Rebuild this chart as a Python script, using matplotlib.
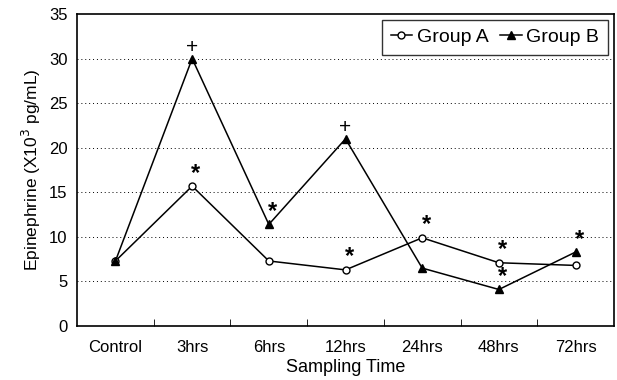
import numpy as np
import matplotlib.pyplot as plt

plt.rcParams['font.family'] = ['Liberation Sans', 'DejaVu Sans']

# Sampling times and epinephrine levels (x10^3 pg/mL)
categories = ['Control', '3hrs', '6hrs', '12hrs', '24hrs', '48hrs', '72hrs']
group_a = [7.3, 15.7, 7.3, 6.3, 9.9, 7.1, 6.8]
group_b = [7.3, 30.0, 11.4, 21.0, 6.5, 4.1, 8.3]

# Significance marks: (category index, symbol)
marks_a = [(1, '*'), (3, '*'), (4, '*'), (5, '*')]
marks_b = [(1, '+'), (2, '*'), (3, '+'), (5, '*'), (6, '*')]

x = np.arange(len(categories))

fig, ax = plt.subplots(figsize=(6.17, 3.80), dpi=100)
fig.subplots_adjust(left=0.125, right=0.995, top=0.963, bottom=0.142)

ax.plot(x, group_a, color='black', lw=1.1, marker='o', ms=5,
        mfc='white', mec='black', mew=1, label='Group A')
ax.plot(x, group_b, color='black', lw=1.1, marker='^', ms=6,
        mfc='black', mec='black', label='Group B')

for i, s in marks_a:
    ax.annotate(s, (x[i] + 0.05, group_a[i]), xytext=(0, 1), textcoords='offset points',
                ha='center', va='bottom', fontsize=17, fontweight='bold')
for i, s in marks_b:
    if s == '*':
        ax.annotate(s, (x[i] + 0.05, group_b[i]), xytext=(0, 1), textcoords='offset points',
                    ha='center', va='bottom', fontsize=17, fontweight='bold')
    else:
        ax.annotate(s, (x[i], group_b[i]), xytext=(0, 1), textcoords='offset points',
                    ha='center', va='bottom', fontsize=15)

ax.set_xlim(-0.5, len(categories) - 0.5)
ax.set_ylim(0, 35)
ax.set_yticks(range(0, 36, 5))
ax.set_xticks(x)
ax.set_xticklabels(categories)
ax.set_xticks(x[:-1] + 0.5, minor=True)
ax.tick_params(axis='x', which='major', length=0, pad=10, labelsize=12)
ax.tick_params(axis='x', which='minor', length=5, direction='in')
ax.tick_params(axis='y', length=0, pad=7, labelsize=12)

for y in range(5, 35, 5):
    ax.axhline(y, color='black', lw=0.7, ls=(0, (1, 3)), zorder=0)

for sp in ax.spines.values():
    sp.set_linewidth(1.2)

ax.set_xlabel('Sampling Time', fontsize=13, labelpad=3)
ax.set_ylabel('Epinephrine (X10$^3$ pg/mL)', fontsize=12.5)

leg = ax.legend(loc='upper right', ncol=2, fontsize=14, frameon=True, fancybox=False,
                edgecolor='black', handlelength=1.1, handletextpad=0.25,
                columnspacing=0.6, borderaxespad=0.3, borderpad=0.45)
leg.get_frame().set_linewidth(1.0)

fig.savefig('out.png', dpi=100)
